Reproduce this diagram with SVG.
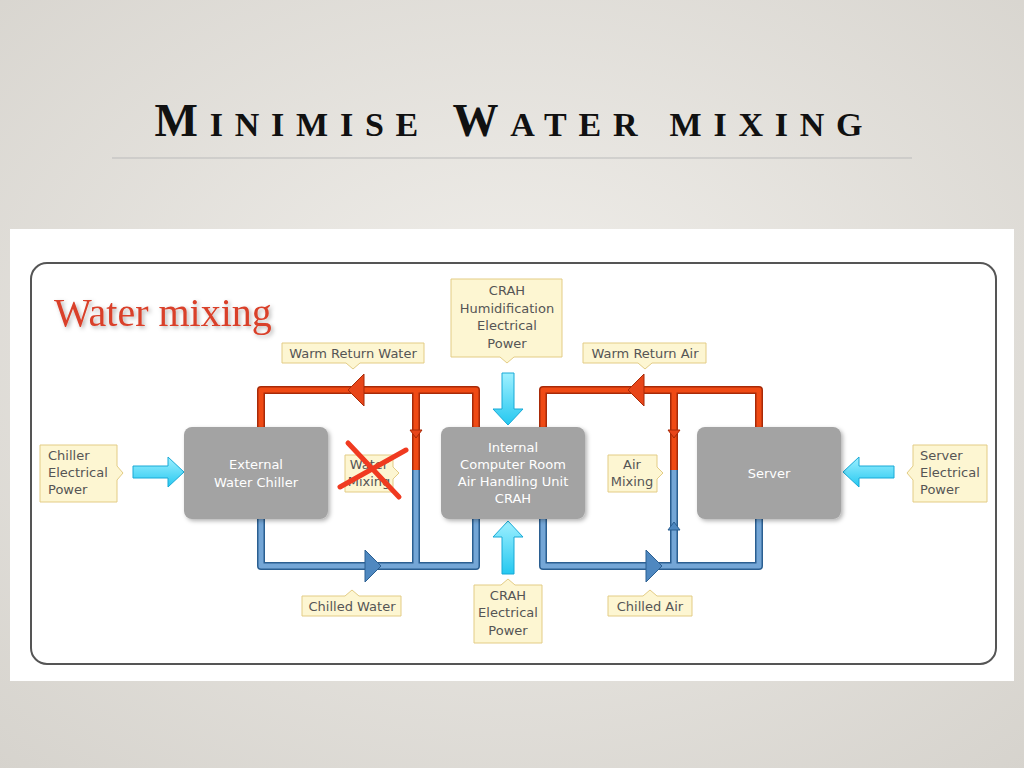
<svg xmlns="http://www.w3.org/2000/svg" width="1024" height="768" viewBox="0 0 1024 768">
<defs>
<radialGradient id="bg" cx="50%" cy="45%" r="75%"><stop offset="0" stop-color="#f1efeb"/><stop offset="1" stop-color="#d6d3cd"/></radialGradient>
<linearGradient id="cy" x1="0" y1="0" x2="0" y2="1"><stop offset="0" stop-color="#9ff0ff"/><stop offset="1" stop-color="#25c8f0"/></linearGradient>
<filter id="sh" x="-10%" y="-10%" width="130%" height="130%"><feDropShadow dx="2" dy="2" stdDeviation="2" flood-opacity="0.3"/></filter>
</defs>
<style>
.node{fill:#a3a3a3;filter:url(#sh)}
.nt{font-family:"DejaVu Sans",sans-serif;font-size:13px;fill:#fff;text-anchor:middle}
.co{fill:#fdf6d2;stroke:#e3cc85;stroke-width:1}
.ct{font-family:"DejaVu Sans",sans-serif;font-size:13px;fill:#555;text-anchor:middle}
.ctl{font-family:"DejaVu Sans",sans-serif;font-size:13px;fill:#555}
.ro{fill:none;stroke:#a82a08;stroke-width:8;stroke-linejoin:round}
.ri{fill:none;stroke:#f04a14;stroke-width:5;stroke-linejoin:round}
.bo{fill:none;stroke:#2b5f91;stroke-width:8;stroke-linejoin:round}
.bi{fill:none;stroke:#74a6d6;stroke-width:5;stroke-linejoin:round}
.rh{fill:#e8461a;stroke:#a82a08}
.bh{fill:#4f88c0;stroke:#2b5f91}
.ca{fill:url(#cy);stroke:#18a9d6;stroke-width:1}
</style>
<rect width="1024" height="768" fill="url(#bg)"/>
<text x="512" y="136" font-family="Liberation Serif,serif" font-size="46" font-weight="bold" text-anchor="middle" fill="#111" letter-spacing="7" textLength="715" lengthAdjust="spacing">M<tspan font-size="34">INIMISE</tspan> W<tspan font-size="34">ATER MIXING</tspan></text>
<line x1="112" y1="158" x2="912" y2="158" stroke="#bbb" stroke-width="1"/>
<rect x="10" y="229" width="1004" height="452" fill="#fff"/>
<rect x="31" y="263" width="965" height="401" rx="16" fill="none" stroke="#555" stroke-width="2"/>
<text x="54" y="326" font-family="Liberation Serif,serif" font-size="40" fill="#d9412a" filter="url(#sh)">Water mixing</text>

<g id="connectors">
<path class="bo" d="M261 519 V566 H476 V519 M416 470 V566"/>
<path class="bi" d="M261 519 V566 H476 V519 M416 470 V566"/>
<path class="ro" d="M261 427 V390 H476 V427 M416 390 V470"/>
<path class="ri" d="M261 427 V390 H476 V427 M416 390 V470"/>
<path class="bo" d="M543 519 V566 H759 V519 M674 470 V566"/>
<path class="bi" d="M543 519 V566 H759 V519 M674 470 V566"/>
<path class="ro" d="M543 427 V390 H759 V427 M674 390 V470"/>
<path class="ri" d="M543 427 V390 H759 V427 M674 390 V470"/>
<path class="rh" d="M348 390 L364 374 L364 406 Z"/>
<path class="rh" d="M628 390 L644 374 L644 406 Z"/>
<path class="bh" d="M381 566 L365 550 L365 582 Z"/>
<path class="bh" d="M662 566 L646 550 L646 582 Z"/>
<path class="rh" d="M416 438 L410 430 L422 430 Z"/>
<path class="rh" d="M674 438 L668 430 L680 430 Z"/>
<path class="bh" d="M674 522 L668 530 L680 530 Z"/>
<path class="ca" d="M133 466 H168 V457 L184 472 L168 487 V478 H133 Z"/>
<path class="ca" d="M894 466 H859 V457 L843 472 L859 487 V478 H894 Z"/>
<path class="ca" d="M502 373 V409 H493 L508 425 L523 409 H514 V373 Z"/>
<path class="ca" d="M502 574 V537 H493 L508 521 L523 537 H514 V574 Z"/>
</g>

<g id="chiller"><rect class="node" x="184" y="427" width="144" height="92" rx="8"/><text class="nt" x="256" y="469">External</text><text class="nt" x="256" y="487">Water Chiller</text></g>
<g id="crah"><rect class="node" x="441" y="427" width="144" height="92" rx="8"/><text class="nt" x="513" y="452">Internal</text><text class="nt" x="513" y="469">Computer Room</text><text class="nt" x="513" y="486">Air Handling Unit</text><text class="nt" x="513" y="503">CRAH</text></g>
<g id="server"><rect class="node" x="697" y="427" width="144" height="92" rx="8"/><text class="nt" x="769" y="478">Server</text></g>

<g id="chiller-power"><path class="co" d="M40 445 H117 V466 L123 473 L117 480 V502 H40 Z"/><text class="ctl" x="48" y="460">Chiller</text><text class="ctl" x="48" y="477">Electrical</text><text class="ctl" x="48" y="494">Power</text></g>
<g id="server-power"><path class="co" d="M913 445 H987 V502 H913 V480 L907 473 L913 466 Z"/><text class="ctl" x="920" y="460">Server</text><text class="ctl" x="920" y="477">Electrical</text><text class="ctl" x="920" y="494">Power</text></g>
<g id="crah-humid"><path class="co" d="M451 279 H562 V357 H514 L507 363 L500 357 H451 Z"/><text class="ct" x="507" y="295">CRAH</text><text class="ct" x="507" y="313">Humidification</text><text class="ct" x="507" y="330">Electrical</text><text class="ct" x="507" y="348">Power</text></g>
<g id="warm-water"><path class="co" d="M282 343 H424 V363 H360 L353 369 L346 363 H282 Z"/><text class="ct" x="353" y="358">Warm Return Water</text></g>
<g id="warm-air"><path class="co" d="M583 343 H706 V363 H652 L645 369 L638 363 H583 Z"/><text class="ct" x="645" y="358">Warm Return Air</text></g>
<g id="chilled-water"><path class="co" d="M302 596 H345 L352 590 L359 596 H401 V616 H302 Z"/><text class="ct" x="352" y="611">Chilled Water</text></g>
<g id="chilled-air"><path class="co" d="M608 596 H643 L650 590 L657 596 H692 V616 H608 Z"/><text class="ct" x="650" y="611">Chilled Air</text></g>
<g id="crah-power"><path class="co" d="M474 585 H501 L508 579 L515 585 H542 V643 H474 Z"/><text class="ct" x="508" y="600">CRAH</text><text class="ct" x="508" y="617">Electrical</text><text class="ct" x="508" y="635">Power</text></g>
<g id="water-mixing"><path class="co" d="M345 455 H393 V467 L399 473 L393 479 V492 H345 Z"/><text class="ct" x="369" y="469">Water</text><text class="ct" x="369" y="486">Mixing</text></g>
<g id="air-mixing"><path class="co" d="M608 455 H657 V467 L663 473 L657 479 V492 H608 Z"/><text class="ct" x="632" y="469">Air</text><text class="ct" x="632" y="486">Mixing</text></g>
<g id="cross" stroke="#f03a20" stroke-width="5" stroke-linecap="round"><line x1="340" y1="487" x2="406" y2="450"/><line x1="348" y1="443" x2="399" y2="497"/></g>
</svg>
